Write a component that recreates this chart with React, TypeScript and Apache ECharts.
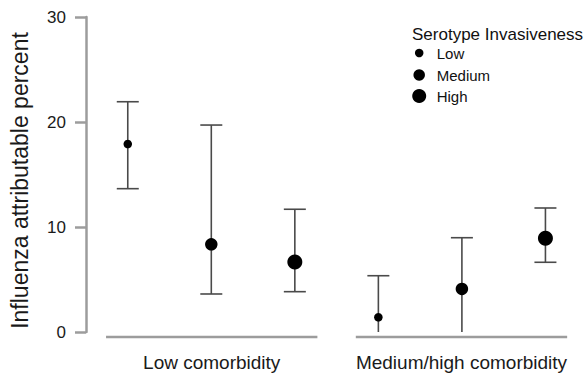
import React, { useEffect, useRef } from "react";
import * as echarts from "echarts";

// ---- data ----
const groupLabels = ["Low comorbidity", "Medium/high comorbidity"];
const groupStart = [0.74, 3.73];
const groupEnd = [3.27, 6.26];

const positions = [1, 2, 3, 4, 5, 6];
const invasiveness = ["Low", "Medium", "High", "Low", "Medium", "High"];
const estimates = [17.9, 8.35, 6.67, 1.4, 4.1, 8.92];
const lower = [13.65, 3.62, 3.84, 0, 0, 6.64];
const upper = [21.93, 19.71, 11.69, 5.36, 8.98, 11.81];

const levels = ["Low", "Medium", "High"];
const legendTitle = "Serotype Invasiveness";
const yTitle = "Influenza attributable percent";
const yMin = 0;
const yMax = 30;
const yStep = 10;

// ---- styles ----
const FONT = "'Liberation Sans', Arial, Helvetica, sans-serif";
const pointSizes: Record<string, number> = { Low: 8.5, Medium: 12.5, High: 15 };
const legendSizes: Record<string, number> = { Low: 8.5, Medium: 11.5, High: 14 };
const legendCenters: Record<string, number> = { Low: 54, Medium: 76, High: 97 };
const AXIS_GRAY = "#9c9c9c";
const BAR_GRAY = "#4a4a4a";

export default function App() {
  const ref = useRef<HTMLDivElement>(null);

  useEffect(() => {
    document.body.style.margin = "0";
    const chart = echarts.init(ref.current!, null, { renderer: "svg" });

    const scatterSeries = levels.map((lvl) => ({
      type: "scatter",
      name: lvl,
      symbol: "circle",
      symbolSize: pointSizes[lvl],
      itemStyle: { color: "#000", opacity: 1 },
      z: 3,
      data: positions
        .map((x, i) => (invasiveness[i] === lvl ? [x, estimates[i]] : null))
        .filter((d) => d !== null),
    }));

    const option: any = {
      animation: false,
      backgroundColor: "#fff",
      grid: { left: 85, top: 17, width: 502.2, height: 315, containLabel: false },
      xAxis: { type: "value", min: 0.5, max: 6.5, show: false },
      yAxis: {
        type: "value",
        min: yMin,
        max: yMax,
        interval: yStep,
        name: yTitle,
        nameLocation: "middle",
        nameGap: 55,
        nameTextStyle: {
          fontSize: 23,
          color: "#1a1a1a",
          fontFamily: FONT,
          padding: [0, 12, 0, 0],
        },
        axisLine: { show: true, lineStyle: { color: AXIS_GRAY, width: 2.5 } },
        axisTick: { show: true, length: 11, lineStyle: { color: AXIS_GRAY, width: 2.5 } },
        axisLabel: { fontSize: 17, color: "#1a1a1a", margin: 20, fontFamily: FONT },
        splitLine: { show: false },
      },
      legend: levels.map((lvl) => ({
        data: [lvl],
        orient: "vertical",
        left: 419.2 - legendSizes[lvl] / 2,
        top: legendCenters[lvl] - 8.5,
        padding: 0,
        itemWidth: 25,
        itemHeight: legendSizes[lvl],
        icon: "circle",
        selectedMode: false,
        itemStyle: { color: "#000", opacity: 1 },
        textStyle: { fontSize: 15, color: "#111", fontFamily: FONT },
      })),
      graphic: [
        {
          type: "text",
          left: 412,
          top: 26,
          style: { text: legendTitle, fontSize: 17, fill: "#111", fontFamily: FONT },
        },
      ],
      series: [
        {
          type: "custom",
          name: "groups",
          silent: true,
          data: groupLabels.map((g, i) => [groupStart[i], groupEnd[i], g]),
          renderItem: (params: any, api: any) => {
            const a = api.coord([api.value(0), yMin]);
            const b = api.coord([api.value(1), yMin]);
            const label = groupLabels[params.dataIndex];
            return {
              type: "group",
              children: [
                {
                  type: "line",
                  shape: { x1: a[0], y1: a[1] + 5, x2: b[0], y2: b[1] + 5 },
                  style: { stroke: AXIS_GRAY, lineWidth: 2.5 },
                },
                {
                  type: "text",
                  x: (a[0] + b[0]) / 2,
                  y: a[1] + 30,
                  style: {
                    text: label,
                    fontSize: 19,
                    fill: "#1a1a1a",
                    fontFamily: FONT,
                    align: "center",
                    verticalAlign: "middle",
                  },
                },
              ],
            };
          },
        },
        {
          type: "custom",
          name: "errors",
          silent: true,
          z: 2,
          data: positions.map((x, i) => [x, lower[i], upper[i]]),
          renderItem: (params: any, api: any) => {
            const x = api.value(0);
            const lo = api.value(1);
            const hi = api.value(2);
            const t = api.coord([x, hi]);
            const b = api.coord([x, lo]);
            const style = { stroke: BAR_GRAY, lineWidth: 1.6 };
            const children: any[] = [
              { type: "line", shape: { x1: t[0], y1: t[1], x2: b[0], y2: b[1] }, style },
              { type: "line", shape: { x1: t[0] - 11, y1: t[1], x2: t[0] + 11, y2: t[1] }, style },
            ];
            if (lo > yMin) {
              children.push({
                type: "line",
                shape: { x1: b[0] - 11, y1: b[1], x2: b[0] + 11, y2: b[1] },
                style,
              });
            }
            return { type: "group", children };
          },
        },
        ...scatterSeries,
      ],
    };

    chart.setOption(option);
    return () => chart.dispose();
  }, []);

  return <div ref={ref} style={{ width: 588, height: 373, position: "absolute", left: 0, top: 0 }} />;
}
